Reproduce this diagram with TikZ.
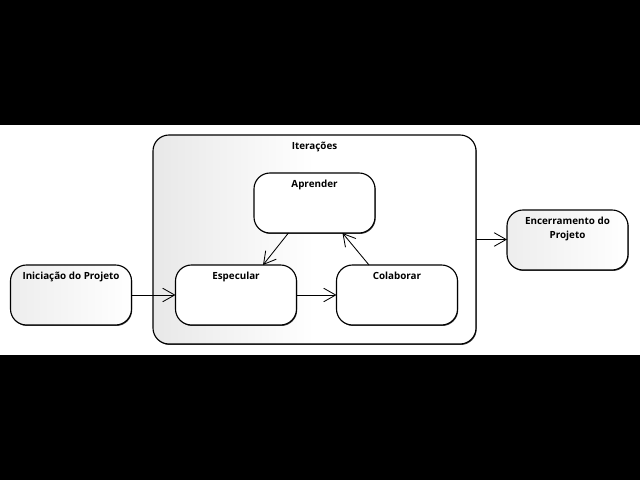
\documentclass[tikz,border=0pt]{standalone}
\usepackage{fontspec}
\setmainfont{Open Sans}
\usetikzlibrary{arrows.meta,shadows}

\begin{document}
\begin{tikzpicture}[>={Straight Barb[length=3mm,width=3.4mm]},font=\fontsize{7}{10}\selectfont\bfseries,
  sombra/.style={drop shadow={shadow xshift=0.5pt,shadow yshift=-0.7pt,opacity=0.75,fill=black}},
  estado/.style={draw,line width=0.8pt,rounded corners=0.4cm,minimum width=3.025cm,minimum height=1.5cm,outer sep=0pt,fill=white,sombra},
  fase/.style={estado,fill=none,left color=black!7,right color=white},
  rotulo/.style={anchor=north,inner sep=0pt,yshift=-5pt,align=center},
  seta/.style={->,line width=0.6pt}]
\fill[black] (0,0) rectangle (16,12);
\fill[white] (0,3.125) rectangle (16,8.875);
% bloco das iteracoes
\node[estado,fill=none,left color=black!9,right color=white,middle color=white,minimum width=8.075cm,minimum height=5.225cm,label={[rotulo]north:Iterações}] (iter) at (7.8625,6.0125) {};
\node[estado,label={[rotulo]north:Aprender}] (apr) at (7.8625,6.925) {};
\node[estado,label={[rotulo]north:Especular}] (esp) at (5.9,4.625) {};
\node[estado,label={[rotulo]north:Colaborar}] (col) at (9.925,4.625) {};
% inicio e fim
\node[fase,label={[rotulo]north:Iniciação do Projeto}] (ini) at (1.775,4.625) {};
\node[fase,label={[rotulo]north:Encerramento do\\Projeto}] (enc) at (14.1875,6.0) {};
\draw[seta] (ini.east) -- (esp.west);
\draw[seta] (esp.east) -- (col.west);
\draw[seta] (apr.229.6) -- (esp.48);
\draw[seta] (col.133) -- (apr.313.5);
\draw[seta] (iter.east) -- (iter.east -| enc.west);
\end{tikzpicture}
\end{document}
